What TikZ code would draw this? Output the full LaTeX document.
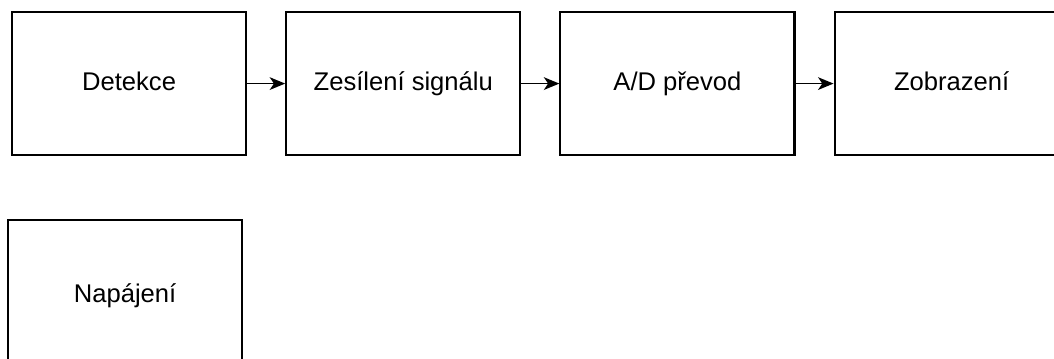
\documentclass[tikz,border=0pt]{standalone}
\usepackage{fontspec}
\setmainfont{Liberation Sans}
\usepackage{tikz}
\usetikzlibrary{arrows.meta,positioning}

\begin{document}
\begin{tikzpicture}[x=0.025cm, y=-0.025cm, node distance=0.95cm,
    blok/.style={draw, line width=1.5pt, minimum width=5.85cm, minimum height=3.575cm,
      inner sep=0pt, text height=12.4pt, text depth=2.6pt, font=\fontsize{18.2}{21}\selectfont},
    sipka/.style={-{Stealth[length=11pt,width=9pt,inset=3pt]}, line width=1.3pt}]
    \useasboundingbox (0,0) rectangle (1054,358);
    \clip (0,0) rectangle (1054,358);
           \node [blok, anchor=north west] (det) at (11,11) {Detekce};
           \node [blok, right=of det] (zes) {Zesílení signálu};
           \node [blok, right=of zes] (ad) {A/D převod};
           \node [blok, right=of ad] (zob) {Zobrazení};
           \node [blok, minimum height=3.8cm, anchor=north west] (nap) at (7,219) {Napájení};
           \draw [sipka] (det) -- (zes);
           \draw [sipka] (zes) -- (ad);
           \draw [sipka] (ad) -- (zob);
      \end{tikzpicture}
\end{document}
